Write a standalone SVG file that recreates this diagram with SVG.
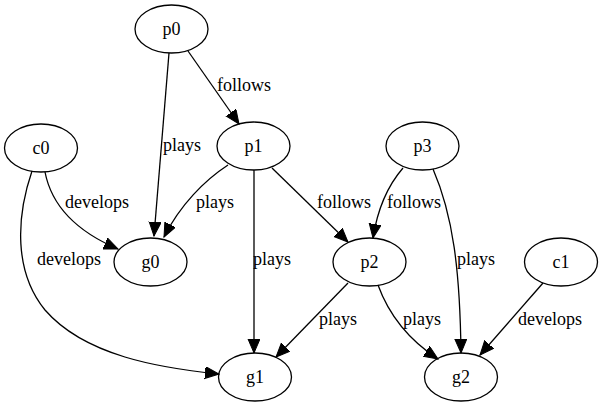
<svg xmlns="http://www.w3.org/2000/svg" width="603" height="407" viewBox="0 0 603 407" font-family="'Liberation Serif', 'Times New Roman', Times, 'DejaVu Serif', serif">
  <style>
    .node ellipse { fill: none; stroke: #000; stroke-width: 1.3; }
    text { font-size: 18px; fill: #000; text-anchor: middle; }
    .edge path { fill: none; stroke: #000; stroke-width: 1.3; marker-end: url(#arrow); }
  </style>
  <defs>
    <marker id="arrow" markerUnits="userSpaceOnUse" markerWidth="15" markerHeight="13" refX="14" refY="6" orient="auto">
      <path d="M0,0 L14,6 L0,12 z" fill="#000" stroke="#000" stroke-width="1"/>
    </marker>
  </defs>
  <rect width="603" height="407" fill="#fff"/>

  <g id="edges">
    <g class="edge" id="p0-p1"><path d="M188,51 L239,124"/><text x="244" y="91">follows</text></g>
    <g class="edge" id="p0-g0"><path d="M169,53 L154,236"/><text x="182" y="151">plays</text></g>
    <g class="edge" id="c0-g0"><path d="M45,172 C52,208 78,232 118,249"/><text x="97" y="208">develops</text></g>
    <g class="edge" id="c0-g1"><path d="M32,171 C16,218 14,272 45,310 C85,356 160,368 219,374"/><text x="69" y="265">develops</text></g>
    <g class="edge" id="p1-g0"><path d="M228,165 C205,180 180,205 164,237"/><text x="215" y="208">plays</text></g>
    <g class="edge" id="p1-g1"><path d="M254,170 L254,353"/><text x="272" y="265">plays</text></g>
    <g class="edge" id="p1-p2"><path d="M272,168 L348,242"/><text x="344" y="208">follows</text></g>
    <g class="edge" id="p3-p2"><path d="M403,168 C390,183 378,206 373,238"/><text x="414" y="208">follows</text></g>
    <g class="edge" id="p3-g2"><path d="M433,169 C453,215 460,270 461,353"/><text x="476" y="265">plays</text></g>
    <g class="edge" id="p2-g1"><path d="M348,283 L276,357"/><text x="338" y="325">plays</text></g>
    <g class="edge" id="p2-g2"><path d="M378,285 C390,318 412,342 438,359"/><text x="422" y="325">plays</text></g>
    <g class="edge" id="c1-g2"><path d="M543,283 L480,355"/><text x="550" y="325">develops</text></g>
  </g>

  <g id="p0" class="node"><ellipse cx="171.5" cy="29" rx="36.5" ry="24"/><text x="171.5" y="35">p0</text></g>
  <g id="c0" class="node"><ellipse cx="41" cy="148" rx="36.5" ry="24"/><text x="41" y="154">c0</text></g>
  <g id="p1" class="node"><ellipse cx="253.5" cy="146" rx="36.5" ry="24"/><text x="253.5" y="152">p1</text></g>
  <g id="p3" class="node"><ellipse cx="422.5" cy="146" rx="36.5" ry="24"/><text x="422.5" y="152">p3</text></g>
  <g id="g0" class="node"><ellipse cx="150.5" cy="262" rx="36.5" ry="24"/><text x="150.5" y="268">g0</text></g>
  <g id="p2" class="node"><ellipse cx="369.5" cy="262" rx="36.5" ry="24"/><text x="369.5" y="268">p2</text></g>
  <g id="c1" class="node"><ellipse cx="561" cy="262" rx="36.5" ry="24"/><text x="561" y="268">c1</text></g>
  <g id="g1" class="node"><ellipse cx="255" cy="377" rx="36.5" ry="24"/><text x="255" y="383">g1</text></g>
  <g id="g2" class="node"><ellipse cx="461" cy="377" rx="36.5" ry="24"/><text x="461" y="383">g2</text></g>
</svg>
